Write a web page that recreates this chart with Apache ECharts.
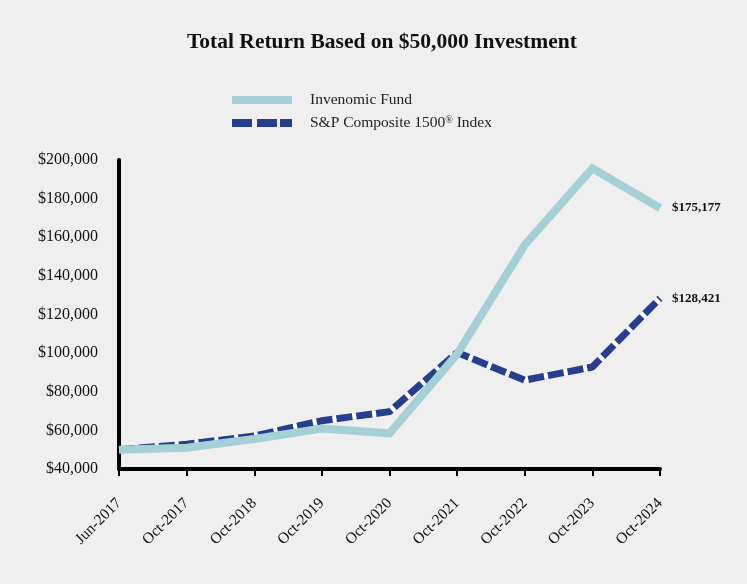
<!DOCTYPE html>
<html>
<head>
<meta charset="utf-8">
<script src="https://cdn.jsdelivr.net/npm/echarts@6/dist/echarts.min.js"></script>
<style>
html,body{margin:0;padding:0;background:#efefef;}
#chart{width:747px;height:584px;}
</style>
</head>
<body>
<div id="chart"></div>
<script>
const categories = ['Jun-2017','Oct-2017','Oct-2018','Oct-2019','Oct-2020','Oct-2021','Oct-2022','Oct-2023','Oct-2024'];
const fundValues = [50000, 51000, 55500, 61000, 58500, 99500, 156000, 195700, 175177];
const indexValues = [50000, 52800, 57100, 65000, 69700, 100300, 86000, 92800, 128421];
const fundName = 'Invenomic Fund';
const indexName = 'S&P Composite 1500® Index';
const titleText = 'Total Return Based on $50,000 Investment';

const serif = 'Liberation Serif';
const fmt = v => '$' + Math.round(v).toLocaleString('en-US');
const dashIcon = 'path://M0,0h20v8h-20z M25,0h20v8h-20z M48,0h12v8h-12z';

const chart = echarts.init(document.getElementById('chart'), null, {renderer: 'canvas'});
chart.setOption({
  backgroundColor: '#efefef',
  animation: false,
  title: {
    text: titleText,
    left: 182, top: 26,
    textStyle: {fontFamily: serif, fontWeight: 'bold', fontSize: 21.5, color: '#111'}
  },
  legend: {
    orient: 'vertical',
    left: 227, top: 87,
    itemWidth: 60, itemHeight: 8, itemGap: 7,
    data: [
      {name: fundName, icon: 'rect'},
      {name: indexName, icon: dashIcon}
    ],
    formatter: n => n.replace('®', '{sup|®}'),
    textStyle: {
      fontFamily: serif, fontSize: 15.5, color: '#222', padding: [0,0,0,13],
      rich: {sup: {fontFamily: serif, fontSize: 10, color: '#222', verticalAlign: 'top', padding: [0,0,6,0]}}
    }
  },
  grid: {left: 119, right: 87, top: 160, bottom: 115},
  xAxis: {
    type: 'category',
    data: categories,
    boundaryGap: false,
    axisLine: {lineStyle: {color: '#000', width: 4}},
    axisTick: {show: true, length: 7, lineStyle: {color: '#000', width: 2}},
    axisLabel: {rotate: 45, margin: 32, fontFamily: serif, fontSize: 15.5, color: '#111'},
    splitLine: {show: false}
  },
  yAxis: {
    type: 'value',
    min: 40000, max: 200000, interval: 20000,
    axisLine: {show: true, lineStyle: {color: '#000', width: 4}},
    axisTick: {show: false},
    axisLabel: {margin: 21, fontFamily: serif, fontSize: 16, color: '#111', formatter: fmt},
    splitLine: {show: false}
  },
  series: [
    {
      name: 'index-gap',
      type: 'line',
      data: indexValues,
      symbol: 'none',
      silent: true,
      lineStyle: {color: '#ffffff', width: 5},
      z: 1
    },
    {
      name: indexName,
      type: 'line',
      data: indexValues,
      symbol: 'none',
      lineStyle: {color: '#253f8e', width: 7, type: [16, 4], cap: 'butt'},
      itemStyle: {color: '#253f8e'},
      endLabel: {show: true, distance: 12, formatter: p => fmt(p.value), fontFamily: serif, fontWeight: 'bold', fontSize: 13, color: '#111'},
      z: 2
    },
    {
      name: fundName,
      type: 'line',
      data: fundValues,
      symbol: 'none',
      lineStyle: {color: '#a5d0d6', width: 8, cap: 'butt', join: 'miter'},
      itemStyle: {color: '#a5d0d6'},
      endLabel: {show: true, distance: 12, formatter: p => fmt(p.value), fontFamily: serif, fontWeight: 'bold', fontSize: 13, color: '#111'},
      z: 3
    }
  ]
});
</script>
</body>
</html>
